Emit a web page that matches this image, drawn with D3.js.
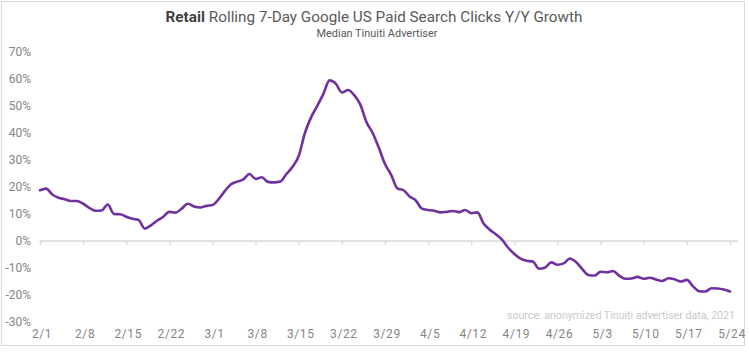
<!DOCTYPE html>
<html><head><meta charset="utf-8">
<script src="https://cdn.jsdelivr.net/npm/d3@7"></script>
<style>body{margin:0;background:#fff}svg{display:block}</style>
</head><body>
<svg id="c" width="749" height="356"></svg>
<script>
// Data: daily values, 2/1 .. 5/24 (2021), Y/Y growth in %
const startDate = "2021-02-01";
const growth = [
 18.8,19.4,17.2,16.0,15.5,14.8,14.8,13.8,12.3,11.2,11.3,13.5,10.0,9.9,9.0,8.2,7.8,4.6,5.8,7.5,
 9.0,10.8,10.5,12.0,13.8,12.8,12.4,13.0,13.3,15.5,18.5,21.0,22.0,22.8,24.8,23.0,23.6,21.9,21.7,22.0,
 24.8,27.5,31.5,40.0,45.8,50.0,54.5,59.5,58.3,55.0,55.9,54.0,50.5,44.0,40.0,34.5,28.5,24.5,19.5,18.8,
 16.5,15.0,12.0,11.5,11.2,10.6,10.8,11.1,10.7,11.5,10.3,10.6,6.5,4.2,2.5,0.5,-2.5,-4.8,-6.5,-7.3,
 -7.6,-10.3,-9.8,-7.9,-8.8,-8.3,-6.5,-7.8,-10.3,-12.6,-12.8,-11.4,-11.6,-11.1,-12.8,-14.0,-13.9,-13.3,-14.0,-13.6,
 -14.3,-14.8,-13.8,-14.2,-15.0,-14.4,-16.8,-18.6,-18.7,-17.5,-17.6,-18.0,-18.7
];
const xTickLabels = ["2/1","2/8","2/15","2/22","3/1","3/8","3/15","3/22","3/29","4/5","4/12","4/19","4/26","5/3","5/10","5/17","5/24"];
const yTicks = [70,60,50,40,30,20,10,0,-10,-20,-30];
const titleBold = "Retail";
const titleRest = " Rolling 7-Day Google US Paid Search Clicks Y/Y Growth";
const subtitle = "Median Tinuiti Advertiser";
const source = "source: anonymized Tinuiti advertiser data, 2021";

const FONT = "'Liberation Sans Narrow', 'Roboto', 'Liberation Sans', sans-serif";
const svg = d3.select("#c");
const parse = d3.timeParse("%Y-%m-%d");
const d0 = parse(startDate);
const data = growth.map((v,i)=>({date:d3.timeDay.offset(d0,i), v}));

const x = d3.scaleTime().domain([d0, d3.timeDay.offset(d0, growth.length-1)]).range([40, 730]);
const y = d3.scaleLinear().domain([-30,70]).range([322, 52]);

// border
svg.append("rect").attr("x",1.5).attr("y",1.5).attr("width",743).attr("height",344)
  .attr("fill","none").attr("stroke","#d9d9d9").attr("stroke-width",1);

// title
const t = svg.append("text").attr("x",374).attr("y",22).attr("text-anchor","middle")
  .style("font-family",FONT).style("font-size","15px").attr("fill","#595959");
t.append("tspan").text(titleBold).attr("font-weight","bold").attr("fill","#404040");
t.append("tspan").text(titleRest);
function fit(sel, target, base){
  const w = sel.node().getComputedTextLength();
  sel.style("font-size", (base*target/w).toFixed(2)+"px");
}
fit(t, 417, 15);

const st = svg.append("text").attr("x",377).attr("y",37).attr("text-anchor","middle")
  .style("font-family",FONT).style("font-size","12px").attr("fill","#595959").text(subtitle);
fit(st, 121, 12);

// y axis labels
svg.append("g").selectAll("text").data(yTicks).join("text")
  .attr("x",31).attr("y",d=>y(d)+4).attr("text-anchor","end")
  .style("font-family",FONT).style("font-size","12px").attr("fill","#858585")
  .text(d=>d+"%");

// zero axis with ticks
const xAxis = d3.axisBottom(x)
  .tickValues(xTickLabels.map((_,i)=>d3.timeDay.offset(d0,i*7)))
  .tickFormat((d,i)=>xTickLabels[i]).tickSize(4).tickSizeOuter(0);
const gx = svg.append("g").attr("transform",`translate(0,${y(0)})`).call(xAxis);
gx.select(".domain").attr("stroke","#d9d9d9").attr("stroke-width",1.3)
  .attr("d", `M${x.range()[0]-0.5},0H${x.range()[1]+8}`);
gx.selectAll(".tick line").attr("stroke","#d9d9d9").attr("stroke-width",1.3);
gx.selectAll(".tick text").remove();

// x labels at bottom
svg.append("g").selectAll("text").data(xTickLabels).join("text")
  .attr("x",(d,i)=>x(d3.timeDay.offset(d0,i*7))+2).attr("y",338).attr("text-anchor","middle")
  .style("font-family",FONT).style("font-size","12px").attr("fill","#858585")
  .attr("letter-spacing","0.6px").text(d=>d);

// source
const src = svg.append("text").attr("x",735).attr("y",319).attr("text-anchor","end")
  .style("font-family",FONT).style("font-size","12px").attr("fill","#c9c9c9").text(source);
fit(src, 228, 12);

// line
const line = d3.line().x(d=>x(d.date)).y(d=>y(d.v)).curve(d3.curveMonotoneX);
svg.append("path").datum(data).attr("d",line).attr("fill","none")
  .attr("stroke","#7030a0").attr("stroke-width",2.6).attr("stroke-linejoin","round").attr("stroke-linecap","round");
</script>
</body></html>
